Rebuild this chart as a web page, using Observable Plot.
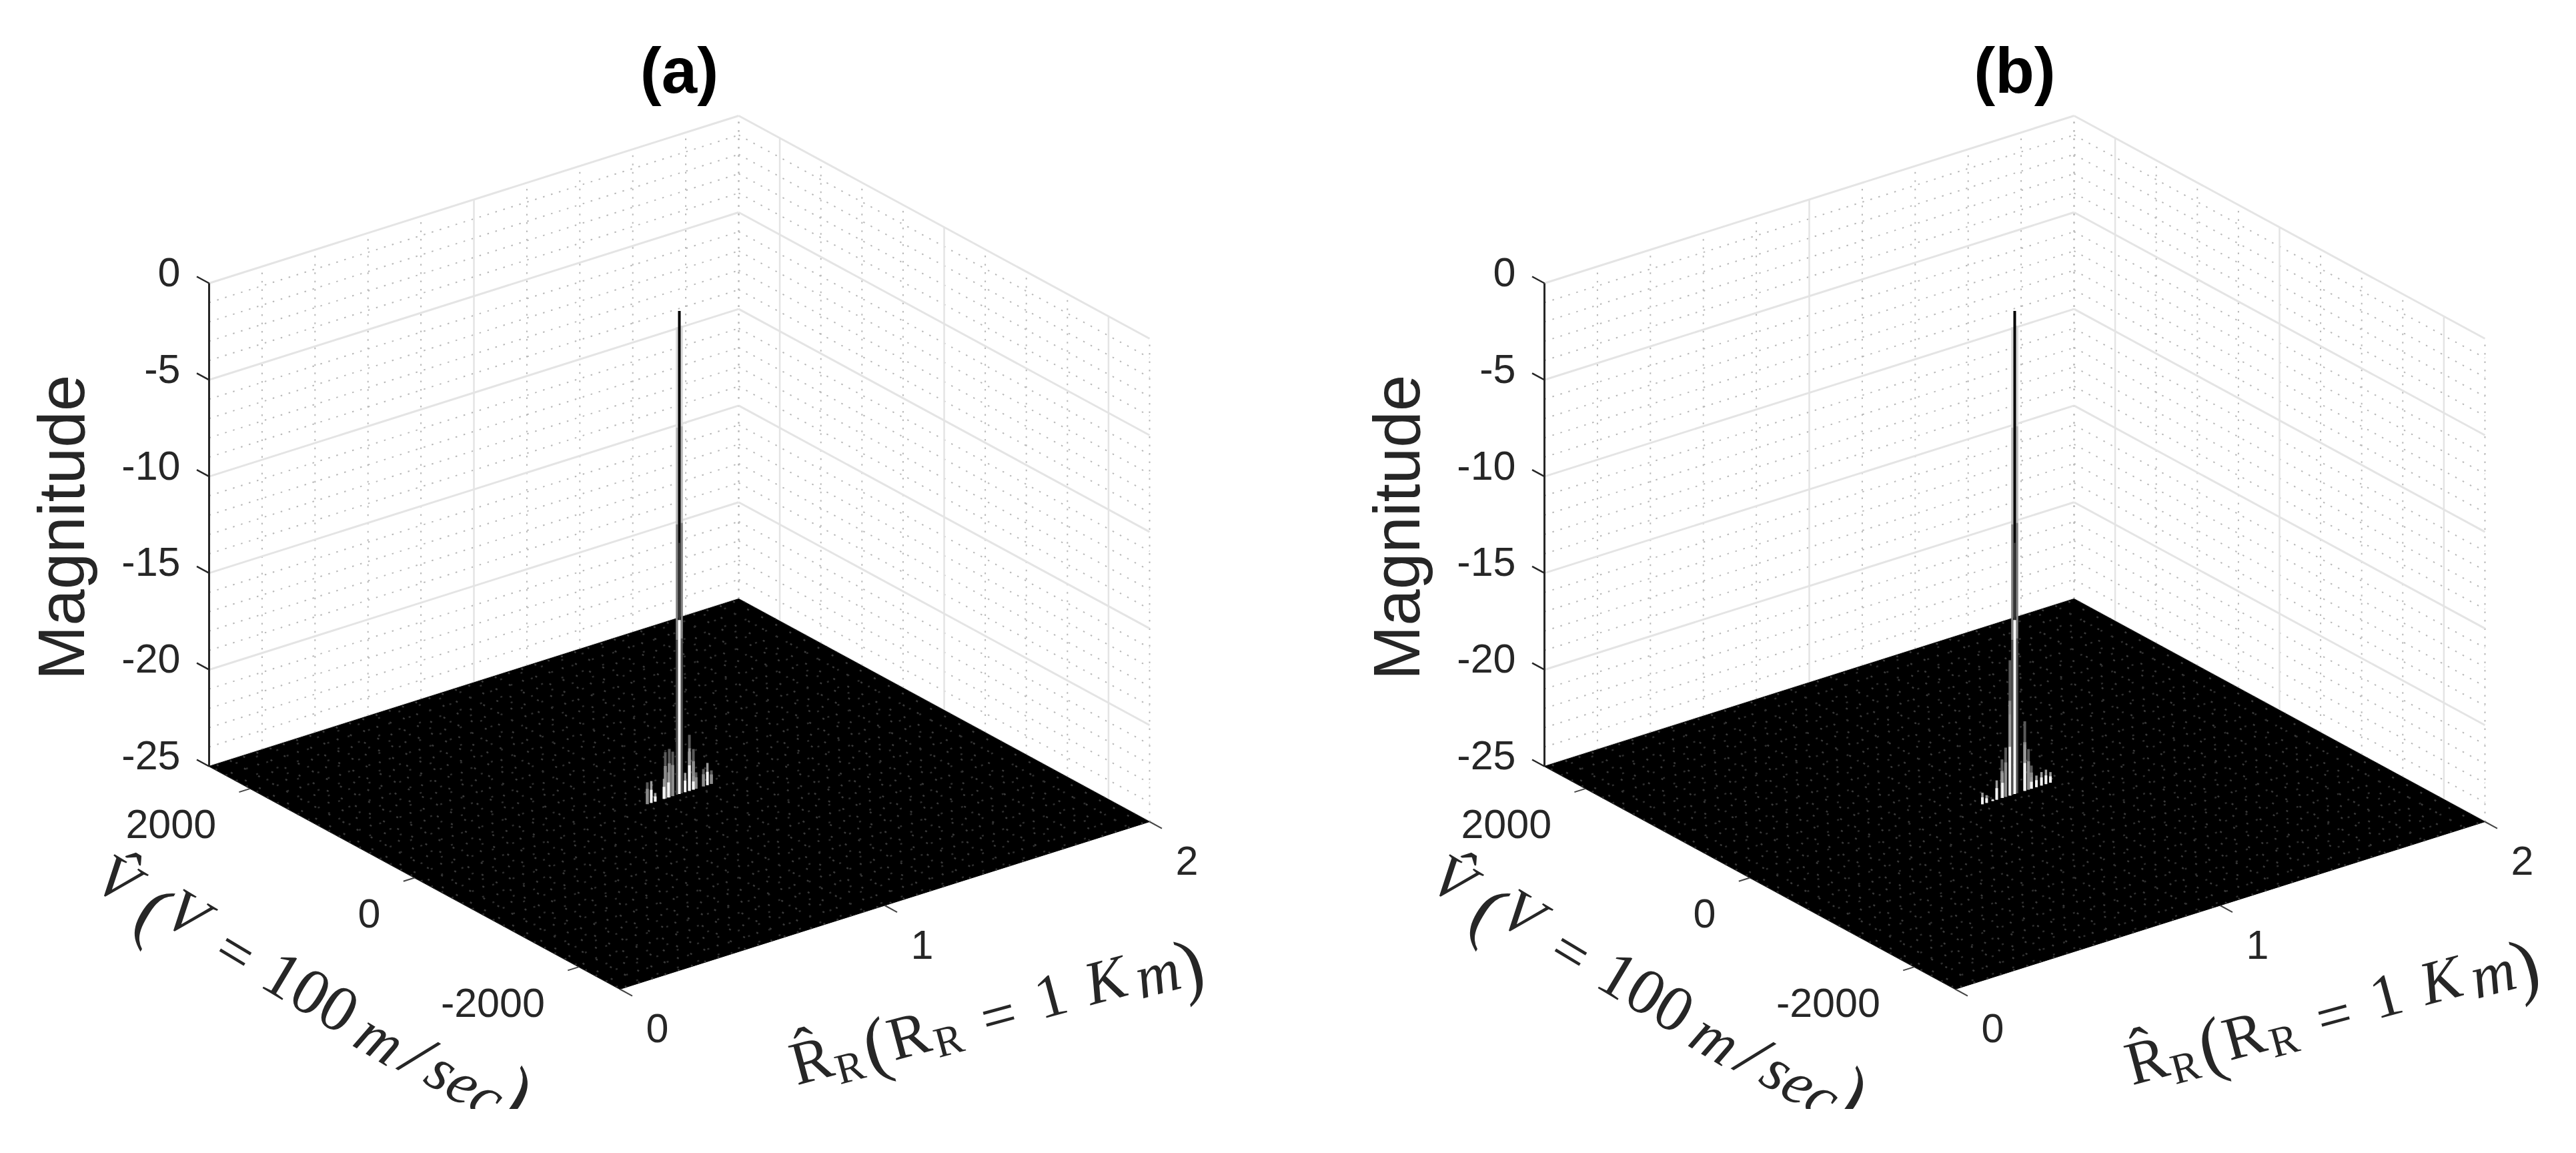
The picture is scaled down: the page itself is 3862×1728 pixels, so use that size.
<!DOCTYPE html>
<html>
<head>
<meta charset="utf-8">
<script src="https://cdn.jsdelivr.net/npm/d3@7"></script>
<script src="https://cdn.jsdelivr.net/npm/@observablehq/plot@0.6"></script>
<style>html,body{margin:0;padding:0;background:#fff}svg{display:block}</style>
</head>
<body>
<script>
// ---------- chart values ----------
const panelTitles = ["(a)", "(b)"];
const rLim = [0, 2];
const vLim = [-2500, 2500];
const zLim = [-25, 0];
const rTicks = [0, 1, 2];
const vTicks = [-2000, 0, 2000];
const zTicks = [0, -5, -10, -15, -20, -25];
const rMinor = [0.2, 0.4, 0.6, 0.8, 1.2, 1.4, 1.6, 1.8, 2];
const vMinor = [2500, 1500, 1000, 500, -500, -1000, -1500, -2500];
const zMinor = [-1,-2,-3,-4,-6,-7,-8,-9,-11,-12,-13,-14,-16,-17,-18,-19,-21,-22,-23,-24];
const peakR = 1, peakV = 0, peakZ = 0;

// side lobes (range, top magnitude), along V = 0
const lobeRWhiteA = [0.894, 0.909, 0.942, 0.959, 1.022, 1.038, 1.053, 1.106];
const lobeZWhiteA = [-23.87, -24.55, -23.96, -23.7, -24, -22.8, -24.3, -23.85];
const lobeRGrayA  = [0.879, 0.947, 0.962, 0.975, 1.038, 1.053, 1.063, 1.091, 1.121];
const lobeZGrayA  = [-23.87, -22.6, -22.5, -22.7, -22.1, -22.9, -24.15, -24.1, -24.3];
const lobeRWhiteB = [0.878, 0.894, 0.917, 0.932, 0.954, 0.982, 1.038, 1.063, 1.082, 1.101, 1.118, 1.135];
const lobeZWhiteB = [-24.4, -24.6, -24.9, -24, -23.7, -20.8, -22.6, -24.4, -24.4, -24.3, -24.25, -24.45];
const lobeRGrayB  = [0.952, 0.966, 0.982, 1.038, 1.052, 1.063];
const lobeZGrayB  = [-23, -22.45, -18, -21.4, -22.9, -23.8];

const sideBreaks = [-0.8, -6, -11, -17, -25];
const ylabel = "Magnitude";
const vLabelParts = ["V\u0302", "(", "V", "=", "100", "m", "/", "sec", ")"];
const rLabelParts = ["R\u0302", "R", "(", "R", "R", "=", "1", "K", "m", ")"];

// ---------- layout (screen) ----------
const W = 3862, H = 1728, clipH = 1662;
const panelDx = [0, 2002];
const front = [929, 1482], rSpan = [794, -251], vSpan = [-616, -334], zUnit = -28.96;
const vOffsets = [[-446,3],[-393,52],[-342,55],[-269,112],[-156,172],[-52,242],[4,267],[76,310],[152,325]];
const vItalic  = [true,false,true,false,false,true,true,true,false];
const vSizes   = [92,112,92,92,98,92,100,92,112];
const rOffsets = [[-110,233],[-52,243],[-13,210],[36,196],[96,203],[171,166],[249,136],[331,113],[409,103],[458,91]];
const rItalic  = [false,false,false,false,false,false,false,true,true,false];
const rSizes   = [92,64,112,92,64,92,92,92,92,112];
const vAngle = 31, rAngle = -15;
const sideTones = ["#d8d8d8", "#b8b8b8", "#808080", "#505050"];
const ink = "#262626", sans = "'Liberation Sans'", serif = "'Liberation Serif'";

const rN = r => (r - rLim[0]) / (rLim[1] - rLim[0]);
const vN = v => (v - vLim[0]) / (vLim[1] - vLim[0]);
const px = (p, r, v) => panelDx[p] + front[0] + rN(r) * rSpan[0] + vN(v) * vSpan[0];
const py = (r, v, z) => front[1] + rN(r) * rSpan[1] + vN(v) * vSpan[1] + (z - zLim[0]) * zUnit;
const seg = (p, a, b) => ({x1: px(p, a[0], a[1]), y1: py(...a), x2: px(p, b[0], b[1]), y2: py(...b)});
const link = (data, o) => Plot.link(data, {x1: "x1", y1: "y1", x2: "x2", y2: "y2", ...o});
const rTickLen = 0.042, vTickLen = 150;
const [r0, r1] = rLim, [v0, v1] = vLim, [zb, zt] = zLim;

function panelMarks(p) {
  const meshR = d3.range(0.025, 2, 0.05), meshV = d3.range(-2450, 2500, 125);
  const lobeWR = p ? lobeRWhiteB : lobeRWhiteA, lobeWZ = p ? lobeZWhiteB : lobeZWhiteA;
  const lobeGR = p ? lobeRGrayB : lobeRGrayA, lobeGZ = p ? lobeZGrayB : lobeZGrayA;
  const spike = (r, z, zFrom = zb) => seg(p, [r, peakV, zFrom], [r, peakV, z]);
  const floor = [[r0, v0], [r1, v0], [r1, v1], [r0, v1]];
  const dots = {stroke: "#b8b8b8", strokeWidth: 2, strokeDasharray: "2.5,10"};
  const marks = [
    // minor dotted grid on the two walls
    link(zMinor.flatMap(z => [seg(p, [r0, v1, z], [r1, v1, z]), seg(p, [r1, v1, z], [r1, v0, z])]), dots),
    link(rMinor.map(r => seg(p, [r, v1, zb], [r, v1, zt])), dots),
    link(vMinor.map(v => seg(p, [r1, v, zb], [r1, v, zt])), dots),
    // major grid
    link(zTicks.flatMap(z => [seg(p, [r0, v1, z], [r1, v1, z]), seg(p, [r1, v1, z], [r1, v0, z])]),
      {stroke: "#e4e4e4", strokeWidth: 3}),
    link(rTicks.slice(1, 2).map(r => seg(p, [r, v1, zb], [r, v1, zt])), {stroke: "#e4e4e4", strokeWidth: 2.5}),
    link(vTicks.map(v => seg(p, [r1, v, zb], [r1, v, zt])), {stroke: "#e4e4e4", strokeWidth: 2.5}),
    // floor of the mesh
    Plot.line(floor, {x: d => px(p, d[0], d[1]), y: d => py(d[0], d[1], zb), fill: "#000", stroke: "#000", strokeWidth: 1, curve: "linear-closed"}),
    link(meshR.map(r => seg(p, [r, v0, zb], [r, v1, zb])), {stroke: "#3a3a3a", strokeWidth: 2.5, strokeDasharray: "3,21"}),
    link(meshV.map(v => seg(p, [r0, v, zb], [r1, v, zb])), {stroke: "#2e2e2e", strokeWidth: 2.5, strokeDasharray: "3,29"}),
    // axes and ticks
    link([seg(p, [r0, v1, zb], [r0, v1, zt])], {stroke: ink, strokeWidth: 3}),
    link(zTicks.map(z => seg(p, [r0, v1, z], [r0, v1 + vTickLen, z])), {stroke: ink, strokeWidth: 2.5}),
    link(rTicks.map(r => seg(p, [r, v0, zb], [r, v0 - vTickLen, zb])), {stroke: "#444", strokeWidth: 2}),
    link(vTicks.map(v => seg(p, [r0, v, zb], [r0 - rTickLen, v, zb])), {stroke: "#444", strokeWidth: 2}),
    // side lobes: dim tip over a brighter lower part
    link(lobeGR.map((r, i) => spike(r, lobeGZ[i])), {stroke: "#5a5a5a", strokeWidth: 4}),
    link(lobeGR.map((r, i) => spike(r, zb + (lobeGZ[i] - zb) * 0.7)), {stroke: "#8c8c8c", strokeWidth: 4.5}),
    link(lobeWR.map((r, i) => spike(r, lobeWZ[i])), {stroke: "#9a9a9a", strokeWidth: 3.5}),
    link(lobeWR.map((r, i) => spike(r, zb + (lobeWZ[i] - zb) * 0.6)), {stroke: "#f4f4f4", strokeWidth: 4}),
    // main peak: sides, dark core, bright core on the floor
    link(sideTones.flatMap((t, i) => [-0.009, 0.009].map(d => ({...spike(peakR + d, sideBreaks[i], sideBreaks[i + 1]), t}))),
      {stroke: "t", strokeWidth: 3.5}),
    link([spike(peakR, peakZ, -16)], {stroke: "#000", strokeWidth: 4}),
    link([spike(peakR, -12, -16)], {stroke: "#444", strokeWidth: 2}),
    link([spike(peakR, -16)], {stroke: "#fff", strokeWidth: 4}),
    // texts
    Plot.text([panelTitles[p]], {x: () => px(p, peakR, peakV), y: () => 108, text: d => d, fontSize: 96, fontWeight: "bold", fontFamily: sans, fill: "#000"}),
    Plot.text([ylabel], {x: () => panelDx[p] + 94, y: () => 790, text: d => d, rotate: -90, fontSize: 98, fontFamily: sans, fill: ink}),
    Plot.text(zTicks, {x: () => px(p, r0, v1) - 43, y: z => py(r0, v1, z) - 15, text: d => String(d), textAnchor: "end", fontSize: 61, fontFamily: sans, fill: ink}),
    Plot.text(rTicks, {x: r => px(p, r, v0) + 56, y: r => py(r, v0, zb) + 60, text: d => String(d), fontSize: 61, fontFamily: sans, fill: ink}),
    Plot.text(vTicks, {x: v => px(p, r0, v) - 51, y: v => py(r0, v, zb) + 55, text: d => String(d), textAnchor: "end", fontSize: 61, fontFamily: sans, fill: ink})
  ];
  const labelMarks = (parts, offs, ital, sizes, angle, ax, ay, clip) => [true, false].map(it =>
    Plot.text(parts.map((t, i) => ({t, i})).filter(d => ital[d.i] === it), {
      x: d => ax + offs[d.i][0], y: d => ay + offs[d.i][1], text: "t", rotate: angle,
      fontSize: d => sizes[d.i], fontFamily: serif, fontStyle: it ? "italic" : "normal", fill: ink, clip
    }));
  marks.push(...labelMarks(vLabelParts, vOffsets, vItalic, vSizes, vAngle, px(p, r0, 0), py(r0, 0, zb), "frame"));
  marks.push(...labelMarks(rLabelParts, rOffsets, rItalic, rSizes, rAngle, px(p, 1, v0), py(1, v0, zb), false));
  return marks;
}

const chart = Plot.plot({
  width: W, height: H,
  marginLeft: 0, marginRight: 0, marginTop: 0, marginBottom: H - clipH,
  x: {domain: [0, W], range: [0, W], axis: null},
  y: {domain: [0, clipH], range: [0, clipH], axis: null},
  color: {type: "identity"},
  style: {background: "#fff", overflow: "visible"},
  marks: [...panelMarks(0), ...panelMarks(1)]
});
document.body.appendChild(chart);
</script>
</body>
</html>
